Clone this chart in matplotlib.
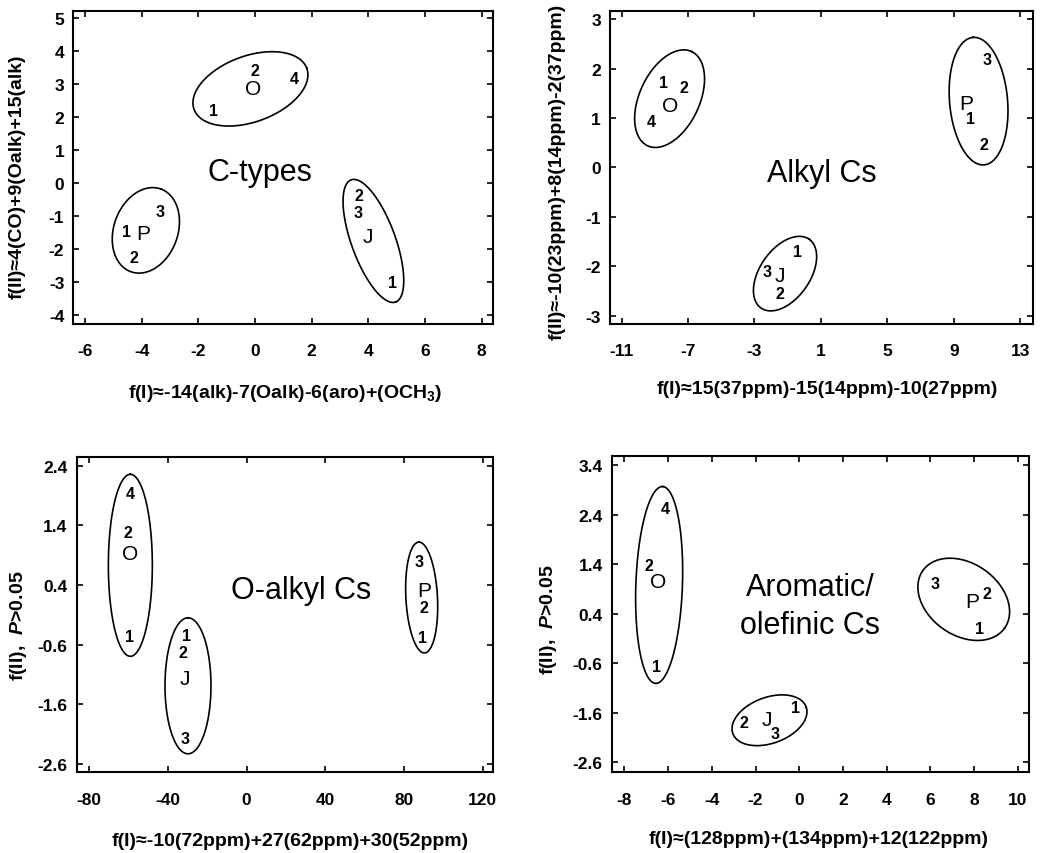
import numpy as np
import matplotlib
matplotlib.use("Agg")
import matplotlib.pyplot as plt

plt.rcParams['font.family'] = ['Liberation Sans', 'DejaVu Sans']
plt.rcParams['axes.unicode_minus'] = False
plt.rcParams['mathtext.fontset'] = 'custom'
plt.rcParams['mathtext.rm'] = 'Liberation Sans:bold'
plt.rcParams['mathtext.it'] = 'Liberation Sans:italic:bold'
plt.rcParams['mathtext.bf'] = 'Liberation Sans:bold'

# ---------------- data ----------------
# Panel 1: C-types
p1_labels = ["2", "O", "4", "1", "1", "P", "3", "2", "2", "3", "J", "1"]
p1_x = [0.0, -0.07, 1.38, -1.48, -4.54, -3.94, -3.35, -4.26, 3.67, 3.63, 4.0, 4.86]
p1_y = [3.43, 2.86, 3.16, 2.19, -1.45, -1.54, -0.85, -2.24, -0.38, -0.88, -1.61, -3.0]
p1_groups_x = [-0.16, -3.85, 4.18]
p1_groups_y = [2.86, -1.43, -1.75]
p1_xticks = [-6, -4, -2, 0, 2, 4, 6, 8]
p1_yticks = [5, 4, 3, 2, 1, 0, -1, -2, -3, -4]
p1_title = "C-types"
p1_xlabel = r"f(I)≈-14(alk)-7(Oalk)-6(aro)+(OCH$_3$)"
p1_ylabel = "f(II)≈4(CO)+9(Oalk)+15(alk)"

# Panel 2: Alkyl Cs
p2_labels = ["1", "2", "O", "4", "P", "1", "3", "2", "1", "3", "J", "2"]
p2_x = [-8.49, -7.22, -8.09, -9.19, 9.72, 10.02, 11.03, 10.82, -0.44, -2.25, -1.45, -1.45]
p2_y = [1.72, 1.62, 1.25, 0.93, 1.30, 0.98, 2.19, 0.46, -1.70, -2.11, -2.19, -2.56]
p2_groups_x = [-8.11, 10.49, -1.16]
p2_groups_y = [1.39, 1.34, -2.15]
p2_xticks = [-11, -7, -3, 1, 5, 9, 13]
p2_yticks = [3, 2, 1, 0, -1, -2, -3]
p2_title = "Alkyl Cs"
p2_xlabel = "f(I)≈15(37ppm)-15(14ppm)-10(27ppm)"
p2_ylabel = "f(II)≈-10(23ppm)+8(14ppm)-2(37ppm)"

# Panel 3: O-alkyl Cs
p3_labels = ["4", "2", "O", "1", "1", "2", "J", "3", "3", "P", "2", "1"]
p3_x = [-59.3, -60.5, -59.3, -59.3, -30.5, -32.5, -31.3, -31.3, 87.6, 90.2, 90.2, 89.5]
p3_y = [1.93, 1.28, 0.92, -0.46, -0.45, -0.74, -1.17, -2.18, 0.80, 0.31, 0.03, -0.48]
p3_groups_x = [-59.1, -29.8, 89.0]
p3_groups_y = [0.73, -1.29, 0.19]
p3_xticks = [-80, -40, 0, 40, 80, 120]
p3_yticks = [2.4, 1.4, 0.4, -0.6, -1.6, -2.6]
p3_yticklabels = ["2.4", "1.4", "0.4", "-0.6", "-1.6", "-2.6"]
p3_title = "O-alkyl Cs"
p3_xlabel = "f(I)≈-10(72ppm)+27(62ppm)+30(52ppm)"
p3_ylabel = r"f(II),  $\mathit{P}$>0.05"

# Panel 4: Aromatic/olefinic Cs
p4_labels = ["2", "O", "4", "1", "2", "J", "3", "1", "3", "P", "2", "1"]
p4_x = [-6.86, -6.47, -6.14, -6.55, -2.52, -1.49, -1.11, -0.19, 6.21, 7.94, 8.58, 8.24]
p4_y = [1.38, 1.04, 2.53, -0.66, -1.79, -1.73, -2.01, -1.49, 1.0, 0.64, 0.80, 0.11]
p4_groups_x = [-6.41, -1.36, 7.53]
p4_groups_y = [0.98, -1.75, 0.69]
p4_xticks = [-8, -6, -4, -2, 0, 2, 4, 6, 8, 10]
p4_yticks = [3.4, 2.4, 1.4, 0.4, -0.6, -1.6, -2.6]
p4_yticklabels = ["3.4", "2.4", "1.4", "0.4", "-0.6", "-1.6", "-2.6"]
p4_title = "Aromatic/\nolefinic Cs"
p4_xlabel = "f(I)≈(128ppm)+(134ppm)+12(122ppm)"
p4_ylabel = r"f(II),  $\mathit{P}$>0.05"

# ---------------- layout / styles ----------------
W, H, DPI = 10.4, 8.54, 100
fig = plt.figure(figsize=(W, H), dpi=DPI)

panels = [
    dict(pos=[0.0705, 0.6194, 0.4038, 0.3669], xlim=(-6.41, 8.41), ylim=(-4.27, 5.23),
         labels=p1_labels, x=p1_x, y=p1_y, gx=p1_groups_x, gy=p1_groups_y,
         ell=[(60, 33, 20), (44, 32, 70), (65, 22, -70)],
         xticks=p1_xticks, yticks=p1_yticks, yticklabels=None,
         title=p1_title, tpos=(0.18, 0.33),
         xlabel=p1_xlabel, ylabel=p1_ylabel, xlc=(0.504, -0.218), ylc=(-0.135, 0.473)),
    dict(pos=[0.5865, 0.6194, 0.4065, 0.3669], xlim=(-11.7, 13.75), ylim=(-3.17, 3.17),
         labels=p2_labels, x=p2_x, y=p2_y, gx=p2_groups_x, gy=p2_groups_y,
         ell=[(52, 30, 65), (64, 29, 95), (42, 25, 55)],
         xticks=p2_xticks, yticks=p2_yticks, yticklabels=None,
         title=p2_title, tpos=(1.03, -0.11),
         xlabel=p2_xlabel, ylabel=p2_ylabel, xlc=(0.513, -0.207), ylc=(-0.126, 0.488)),
    dict(pos=[0.0737, 0.0945, 0.4006, 0.3688], xlim=(-86.4, 125.4), ylim=(-2.74, 2.54),
         labels=p3_labels, x=p3_x, y=p3_y, gx=p3_groups_x, gy=p3_groups_y,
         ell=[(91, 22, 90), (68, 23, 90), (55.5, 15.8, 93)],
         xticks=p3_xticks, yticks=p3_yticks, yticklabels=p3_yticklabels,
         title=p3_title, tpos=(27.6, 0.31),
         xlabel=p3_xlabel, ylabel=p3_ylabel, xlc=(0.512, -0.217), ylc=(-0.140, 0.468)),
    dict(pos=[0.5882, 0.0945, 0.4015, 0.37], xlim=(-8.58, 10.53), ylim=(-2.80, 3.576),
         labels=p4_labels, x=p4_x, y=p4_y, gx=p4_groups_x, gy=p4_groups_y,
         ell=[(98.5, 23.3, 88), (39, 23, 20), (50, 36, -35)],
         xticks=p4_xticks, yticks=p4_yticks, yticklabels=p4_yticklabels,
         title=p4_title, tpos=(0.49, 0.56),
         xlabel=p4_xlabel, ylabel=p4_ylabel, xlc=(0.495, -0.211), ylc=(-0.152, 0.485)),
]


def draw_ellipse(ax, cx, cy, a_px, b_px, ang_deg):
    bb = ax.get_position()
    x0, x1 = ax.get_xlim()
    y0, y1 = ax.get_ylim()
    sx = bb.width * W * DPI / (x1 - x0)
    sy = bb.height * H * DPI / (y1 - y0)
    t = np.linspace(0, 2 * np.pi, 300)
    phi = np.deg2rad(ang_deg)
    dx = a_px * np.cos(phi) * np.cos(t) - b_px * np.sin(phi) * np.sin(t)
    dy = a_px * np.sin(phi) * np.cos(t) + b_px * np.cos(phi) * np.sin(t)
    ax.plot(cx + dx / sx, cy + dy / sy, color='black', lw=1.2)


for p in panels:
    ax = fig.add_axes(p['pos'])
    ax.set_xlim(*p['xlim'])
    ax.set_ylim(*p['ylim'])
    for s in ax.spines.values():
        s.set_linewidth(1.5)
    ax.set_xticks(p['xticks'])
    ax.set_yticks(p['yticks'])
    if p['yticklabels'] is not None:
        ax.set_yticklabels(p['yticklabels'])
    ax.tick_params(axis='both', direction='in', length=4, width=1.2,
                   top=True, right=True, labelsize=12.5)
    ax.tick_params(axis='x', pad=14)
    ax.tick_params(axis='y', pad=6.5)
    for lab in ax.get_xticklabels() + ax.get_yticklabels():
        lab.set_fontweight('bold')

    for lbl, x, y in zip(p['labels'], p['x'], p['y']):
        if lbl.isdigit():
            ax.text(x, y, lbl, ha='center', va='center', fontsize=11.5, fontweight='bold')
        else:
            ax.text(x, y, lbl, ha='center', va='center', fontsize=15)

    for (cx, cy), (a, b, ang) in zip(zip(p['gx'], p['gy']), p['ell']):
        draw_ellipse(ax, cx, cy, a, b, ang)

    ax.text(p['tpos'][0], p['tpos'][1], p['title'], ha='center', va='center',
            fontsize=22, linespacing=1.35)

    ax.set_xlabel(p['xlabel'], fontsize=14, fontweight='bold', va='center')
    ax.xaxis.set_label_coords(*p['xlc'])
    ax.set_ylabel(p['ylabel'], fontsize=14, fontweight='bold', va='center')
    ax.yaxis.set_label_coords(*p['ylc'])

fig.savefig("out.png", dpi=DPI)
